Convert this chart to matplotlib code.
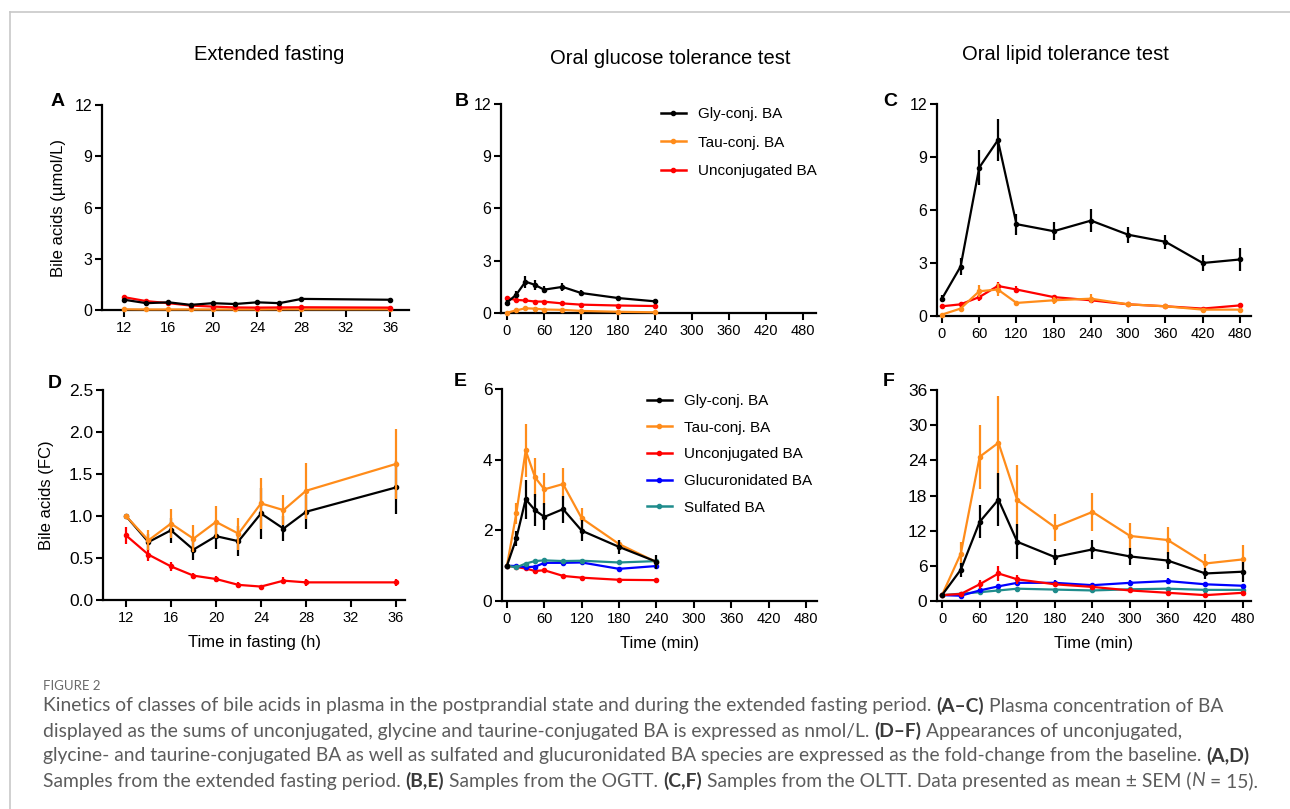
import matplotlib
matplotlib.use("Agg")
import matplotlib.pyplot as plt
from matplotlib.lines import Line2D

plt.rcParams['font.family'] = ['Liberation Sans', 'DejaVu Sans']

W, H = 1290, 809

# ---------------------------------------------------------------
# DATA
# ---------------------------------------------------------------
fast_h = [12, 14, 16, 18, 20, 22, 24, 26, 28, 36]
ogtt_min = [0, 15, 30, 45, 60, 90, 120, 180, 240]
oltt_min = [0, 30, 60, 90, 120, 180, 240, 300, 360, 420, 480]

# A: extended fasting, umol/L
gly_A = [0.6, 0.4, 0.45, 0.3, 0.4, 0.35, 0.45, 0.4, 0.65, 0.6]
gly_A_err = [0.06, 0.05, 0.05, 0.04, 0.05, 0.04, 0.05, 0.05, 0.06, 0.05]
tau_A = [0.04, 0.03, 0.03, 0.03, 0.03, 0.03, 0.03, 0.04, 0.04, 0.04]
tau_A_err = [0.01] * 10
unc_A = [0.75, 0.52, 0.4, 0.26, 0.2, 0.15, 0.14, 0.15, 0.16, 0.14]
unc_A_err = [0.08, 0.06, 0.05, 0.03, 0.03, 0.02, 0.02, 0.03, 0.03, 0.03]

# B: OGTT, umol/L
gly_B = [0.6, 1.05, 1.8, 1.62, 1.34, 1.5, 1.15, 0.86, 0.67]
gly_B_err = [0.12, 0.2, 0.35, 0.3, 0.2, 0.22, 0.17, 0.12, 0.12]
tau_B = [0.02, 0.15, 0.27, 0.25, 0.2, 0.18, 0.12, 0.07, 0.04]
tau_B_err = [0.01, 0.04, 0.06, 0.06, 0.05, 0.04, 0.03, 0.02, 0.01]
unc_B = [0.85, 0.75, 0.72, 0.66, 0.65, 0.55, 0.48, 0.43, 0.4]
unc_B_err = [0.15, 0.1, 0.1, 0.08, 0.08, 0.06, 0.05, 0.05, 0.05]

# C: OLTT, umol/L
gly_C = [0.98, 2.8, 8.4, 9.95, 5.2, 4.8, 5.4, 4.6, 4.2, 3.0, 3.2]
gly_C_err = [0.2, 0.5, 1.0, 1.2, 0.6, 0.5, 0.65, 0.45, 0.4, 0.45, 0.65]
tau_C = [0.08, 0.42, 1.4, 1.5, 0.74, 0.89, 0.98, 0.66, 0.55, 0.36, 0.36]
tau_C_err = [0.03, 0.1, 0.35, 0.35, 0.1, 0.2, 0.25, 0.1, 0.08, 0.06, 0.06]
unc_C = [0.55, 0.66, 1.07, 1.7, 1.5, 1.07, 0.89, 0.66, 0.55, 0.42, 0.6]
unc_C_err = [0.08, 0.08, 0.2, 0.25, 0.2, 0.12, 0.1, 0.08, 0.06, 0.06, 0.15]

# D: extended fasting, fold change
gly_D = [1.0, 0.69, 0.83, 0.6, 0.76, 0.7, 1.03, 0.85, 1.05, 1.34]
gly_D_err = [0.0, 0.1, 0.15, 0.12, 0.15, 0.18, 0.3, 0.15, 0.2, 0.32]
tau_D = [1.0, 0.71, 0.91, 0.73, 0.93, 0.79, 1.15, 1.07, 1.3, 1.62]
tau_D_err = [0.0, 0.12, 0.17, 0.16, 0.19, 0.19, 0.3, 0.18, 0.33, 0.42]
unc_D = [0.77, 0.54, 0.4, 0.29, 0.25, 0.18, 0.16, 0.23, 0.21, 0.21]
unc_D_err = [0.1, 0.07, 0.05, 0.03, 0.03, 0.03, 0.02, 0.04, 0.04, 0.04]

# E: OGTT, fold change
gly_E = [1.0, 1.77, 2.88, 2.57, 2.38, 2.6, 1.99, 1.53, 1.11]
gly_E_err = [0.0, 0.2, 0.55, 0.45, 0.38, 0.38, 0.3, 0.2, 0.2]
tau_E = [1.0, 2.48, 4.26, 3.5, 3.16, 3.31, 2.34, 1.61, 1.1]
tau_E_err = [0.0, 0.3, 0.75, 0.55, 0.45, 0.45, 0.3, 0.12, 0.08]
unc_E = [1.0, 0.96, 0.92, 0.85, 0.87, 0.71, 0.66, 0.6, 0.59]
unc_E_err = [0.0, 0.05, 0.05, 0.04, 0.05, 0.04, 0.05, 0.05, 0.05]
glc_E = [1.0, 0.99, 0.96, 0.97, 1.08, 1.08, 1.09, 0.91, 0.99]
glc_E_err = [0.0, 0.05, 0.04, 0.04, 0.05, 0.05, 0.05, 0.05, 0.05]
sul_E = [1.0, 0.95, 1.06, 1.13, 1.15, 1.13, 1.14, 1.09, 1.13]
sul_E_err = [0.0, 0.04, 0.05, 0.07, 0.06, 0.05, 0.05, 0.05, 0.05]

# F: OLTT, fold change
gly_F = [1.0, 5.35, 13.5, 17.3, 10.1, 7.5, 8.8, 7.6, 6.9, 4.7, 5.0]
gly_F_err = [0.0, 1.2, 2.8, 4.5, 3.0, 1.3, 1.6, 1.5, 1.4, 1.0, 1.7]
tau_F = [1.0, 8.1, 24.6, 27.0, 17.2, 12.6, 15.2, 11.1, 10.4, 6.4, 7.1]
tau_F_err = [0.0, 2.0, 5.5, 8.0, 6.0, 2.3, 3.3, 2.2, 2.3, 1.6, 2.5]
unc_F = [1.0, 1.2, 2.85, 4.7, 3.7, 2.85, 2.4, 1.8, 1.4, 1.0, 1.4]
unc_F_err = [0.0, 0.3, 0.8, 1.3, 0.8, 0.4, 0.4, 0.4, 0.3, 0.2, 0.3]
glc_F = [1.0, 0.9, 1.8, 2.5, 3.1, 3.1, 2.7, 3.1, 3.4, 2.85, 2.6]
glc_F_err = [0.0, 0.15, 0.3, 0.4, 0.4, 0.4, 0.3, 0.4, 0.5, 0.35, 0.35]
sul_F = [1.0, 1.25, 1.5, 1.8, 2.1, 1.95, 1.8, 2.0, 2.1, 1.9, 1.9]
sul_F_err = [0.0, 0.1, 0.15, 0.2, 0.2, 0.2, 0.2, 0.2, 0.2, 0.2, 0.2]

col_titles = ['Extended fasting', 'Oral glucose tolerance test', 'Oral lipid tolerance test']
legend_labels = ['Gly-conj. BA', 'Tau-conj. BA', 'Unconjugated BA', 'Glucuronidated BA', 'Sulfated BA']

BLACK = '#000000'
ORANGE = '#ff8c1a'
RED = '#ff0000'
BLUE = '#0000ff'
TEAL = '#1f8c8c'

fig = plt.figure(figsize=(W / 100, H / 100), dpi=100)


def add_ax(left, right, top, bottom):
    # pixel box -> figure fraction
    return fig.add_axes([left / W, 1 - bottom / H, (right - left) / W, (bottom - top) / H])


def style(ax, xlim, ylim, xticks, yticks, yfmt=None, ysize=11.5):
    ax.set_xlim(*xlim)
    ax.set_ylim(*ylim)
    ax.set_xticks(xticks)
    ax.set_yticks(yticks)
    if yfmt:
        ax.set_yticklabels([yfmt % v for v in yticks])
    for s in ['top', 'right']:
        ax.spines[s].set_visible(False)
    for s in ['left', 'bottom']:
        ax.spines[s].set_linewidth(1.6)
    ax.tick_params(direction='out', length=5, width=1.5, pad=3)
    ax.tick_params(axis='x', labelsize=10.5)
    ax.tick_params(axis='y', labelsize=ysize, pad=2)
    ax.patch.set_alpha(0)


def series(ax, x, y, e, color, z):
    ax.errorbar(x, y, yerr=e, color=color, lw=1.6, elinewidth=1.6, capsize=0,
                marker='o', ms=3, clip_on=False, zorder=z)


def ylabel_at(ax, text, px, py):
    ax.set_ylabel(text, fontsize=12)
    ax.yaxis.set_label_coords(px / W, 1 - py / H, transform=fig.transFigure)


# ---------------- A ----------------
axA = add_ax(102, 409, 105, 310)
style(axA, (10.0, 37.7), (0, 12), [12, 16, 20, 24, 28, 32, 36], [0, 3, 6, 9, 12])
series(axA, fast_h, tau_A, tau_A_err, ORANGE, 3)
series(axA, fast_h, unc_A, unc_A_err, RED, 4)
series(axA, fast_h, gly_A, gly_A_err, BLACK, 5)
ylabel_at(axA, 'Bile acids (µmol/L)', 66, 208)

# ---------------- B ----------------
axB = add_ax(501, 816, 104, 313)
style(axB, (-9.7, 501), (0, 12), list(range(0, 481, 60)), [0, 3, 6, 9, 12])
series(axB, ogtt_min, tau_B, tau_B_err, ORANGE, 3)
series(axB, ogtt_min, unc_B, unc_B_err, RED, 4)
series(axB, ogtt_min, gly_B, gly_B_err, BLACK, 5)

# ---------------- C ----------------
axC = add_ax(937, 1251, 104, 316)
style(axC, (-8, 497.7), (0, 12), list(range(0, 481, 60)), [0, 3, 6, 9, 12])
series(axC, oltt_min, unc_C, unc_C_err, RED, 3)
series(axC, oltt_min, tau_C, tau_C_err, ORANGE, 4)
series(axC, oltt_min, gly_C, gly_C_err, BLACK, 5)

# ---------------- D ----------------
axD = add_ax(103, 405, 390, 600)
style(axD, (9.96, 36.8), (0, 2.5), [12, 16, 20, 24, 28, 32, 36],
      [0, 0.5, 1.0, 1.5, 2.0, 2.5], '%.1f', ysize=12.5)
series(axD, fast_h, unc_D, unc_D_err, RED, 3)
series(axD, fast_h, gly_D, gly_D_err, BLACK, 4)
series(axD, fast_h, tau_D, tau_D_err, ORANGE, 5)
ylabel_at(axD, 'Bile acids (FC)', 54, 495)
axD.set_xlabel('Time in fasting (h)', fontsize=12, labelpad=7)

# ---------------- E ----------------
axE = add_ax(502, 817, 389, 601)
style(axE, (-8, 497.7), (0, 6), list(range(0, 481, 60)), [0, 2, 4, 6], ysize=12.5)
series(axE, ogtt_min, unc_E, unc_E_err, RED, 2)
series(axE, ogtt_min, glc_E, glc_E_err, BLUE, 3)
series(axE, ogtt_min, sul_E, sul_E_err, TEAL, 4)
series(axE, ogtt_min, tau_E, tau_E_err, ORANGE, 5)
series(axE, ogtt_min, gly_E, gly_E_err, BLACK, 6)
axE.set_xlabel('Time (min)', fontsize=12, labelpad=7)

# ---------------- F ----------------
axF = add_ax(937, 1251, 390, 601)
style(axF, (-8, 492.8), (0, 36), list(range(0, 481, 60)), [0, 6, 12, 18, 24, 30, 36], ysize=12.5)
series(axF, oltt_min, sul_F, sul_F_err, TEAL, 2)
series(axF, oltt_min, glc_F, glc_F_err, BLUE, 3)
series(axF, oltt_min, unc_F, unc_F_err, RED, 4)
series(axF, oltt_min, tau_F, tau_F_err, ORANGE, 5)
series(axF, oltt_min, gly_F, gly_F_err, BLACK, 6)
axF.set_xlabel('Time (min)', fontsize=12, labelpad=7)

# legends
colors = [BLACK, ORANGE, RED, BLUE, TEAL]
handles = [Line2D([], [], color=c, lw=1.8, marker='o', ms=3) for c in colors]
axB.legend(handles[:3], legend_labels[:3], loc='upper left', frameon=False,
           bbox_to_anchor=(655 / W, 1 - 101 / H), bbox_transform=fig.transFigure,
           fontsize=11, handlelength=1.6, handletextpad=0.8, labelspacing=0.95,
           borderaxespad=0)
axE.legend(handles, legend_labels, loc='upper left', frameon=False,
           bbox_to_anchor=(641 / W, 1 - 388 / H), bbox_transform=fig.transFigure,
           fontsize=11, handlelength=1.6, handletextpad=0.8, labelspacing=0.83,
           borderaxespad=0)

# column titles and panel letters
fig.text(269 / W, 1 - 54 / H, col_titles[0], ha='center', va='center', fontsize=14.5)
fig.text(670 / W, 1 - 59 / H, col_titles[1], ha='center', va='center', fontsize=14.5)
fig.text(1065 / W, 1 - 54 / H, col_titles[2], ha='center', va='center', fontsize=14.5)
for lab, px, py in [('A', 58, 102), ('B', 462, 101), ('C', 890, 102),
                    ('D', 55, 384), ('E', 460, 381), ('F', 889, 381)]:
    fig.text(px / W, 1 - py / H, lab, ha='center', va='center', fontsize=14, fontweight='bold')

# frame lines
fig.add_artist(Line2D([10 / W, 1], [1 - 12 / H, 1 - 12 / H], color='#c8c8c8', lw=1.2))
fig.add_artist(Line2D([10 / W, 10 / W], [0, 1 - 12 / H], color='#c8c8c8', lw=1.2))

# caption
CAP_FONT = ['Lato', 'DejaVu Sans']
GREY = '#5c5c5c'
DARK = '#3a3a3a'
fig.text(43 / W, 1 - 686 / H, 'FIGURE 2', ha='left', va='center', fontsize=9.5,
         color='#6a6a6a', family=CAP_FONT)

caption = [
    [('Kinetics of classes of bile acids in plasma in the postprandial state and during the extended fasting period. ', 'n'),
     ('(A–C)', 'b'), (' Plasma concentration of BA', 'n')],
    [('displayed as the sums of unconjugated, glycine and taurine-conjugated BA is expressed as nmol/L. ', 'n'),
     ('(D–F)', 'b'), (' Appearances of unconjugated,', 'n')],
    [('glycine- and taurine-conjugated BA as well as sulfated and glucuronidated BA species are expressed as the fold-change from the baseline. ', 'n'),
     ('(A,D)', 'b')],
    [('Samples from the extended fasting period. ', 'n'), ('(B,E)', 'b'),
     (' Samples from the OGTT. ', 'n'), ('(C,F)', 'b'),
     (' Samples from the OLTT. Data presented as mean ± SEM (', 'n'), ('N', 'i'), (' = 15).', 'n')],
]
caption_y = [706, 731, 756, 781]

renderer = fig.canvas.get_renderer()


def kind_kw(kind):
    if kind == 'b':
        return {'fontweight': 'bold', 'color': DARK}
    if kind == 'i':
        return {'fontstyle': 'italic', 'color': GREY}
    return {'color': GREY}


def text_w(s, size, **kw):
    t = fig.text(0, 0, s, fontsize=size, family=CAP_FONT, **kw)
    w = t.get_window_extent(renderer).width
    t.remove()
    return w


def draw_line(pieces, py, size, draw=True):
    space_w = text_w('x x', size) - text_w('xx', size)
    x = 43.0
    for s, kind in pieces:
        lead = len(s) - len(s.lstrip(' '))
        trail = len(s) - len(s.rstrip(' '))
        core = s.strip(' ')
        x += lead * space_w
        kw = kind_kw(kind)
        if draw:
            fig.text(x / W, 1 - py / H, core, ha='left', va='center', fontsize=size,
                     family=CAP_FONT, **kw)
        x += text_w(core, size, **kw) + trail * space_w
    return x


# fit the caption size so the first line ends where it does in the figure
base = 12.0
end = draw_line(caption[0], 0, base, draw=False)
CAP_SIZE = base * (1224 - 43) / (end - 43)

for pieces, py in zip(caption, caption_y):
    draw_line(pieces, py, CAP_SIZE)

fig.savefig('out.png', dpi=100)
